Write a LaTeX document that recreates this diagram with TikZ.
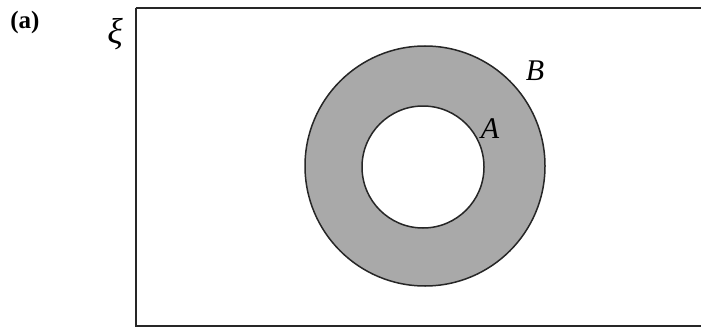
\documentclass[tikz,border=0pt]{standalone}
\usepackage{fontspec}
\setmainfont{Liberation Serif}
\definecolor{ringgray}{HTML}{A9A9A9}
\begin{document}
\begin{tikzpicture}[x=1pt,y=-1pt,
  lbl/.style={font=\fontsize{30}{32}\selectfont\itshape, inner sep=0pt},
  edge/.style={line width=2pt, draw=black!85}]
\useasboundingbox (0,0) rectangle (701,329);
\draw[edge] (135.5,8) -- (705,8) (135.5,8) -- (135.5,325.5) -- (705,325.5);
\fill[ringgray, even odd rule] (425,166) circle (120) (423,167) circle (61);
\draw[line width=1.5pt, draw=black!85] (425,166) circle (120);
\draw[line width=1.5pt, draw=black!85] (423,167) circle (61);
\node[lbl] (b) at (535,71) {B};
\node[lbl] (a) at (490,129) {A};
\node[lbl, font=\fontsize{36}{38}\selectfont\itshape] (xi) at (115,34) {ξ};
\node[font=\fontsize{25}{28}\selectfont\bfseries, inner sep=0pt] (lab) at (25,22) {(a)};
\end{tikzpicture}
\end{document}
